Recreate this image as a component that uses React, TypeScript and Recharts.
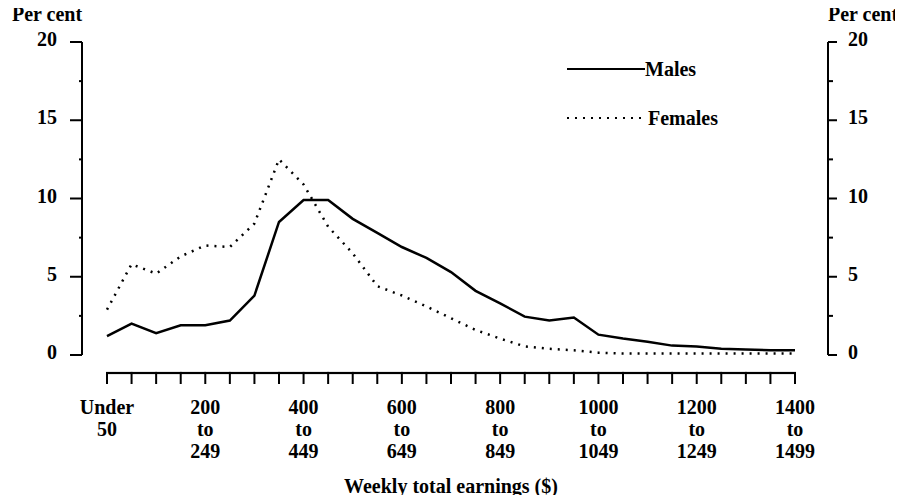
import React from 'react';
import { LineChart, Line, XAxis, YAxis, Legend } from 'recharts';

// Weekly total earnings classes (lower bound, $), 0 = "Under 50"
const earningsClasses = [0, 50, 100, 150, 200, 250, 300, 350, 400, 450, 500, 550, 600, 650, 700, 750, 800, 850, 900, 950, 1000, 1050, 1100, 1150, 1200, 1250, 1300, 1350, 1400];
const malesPct = [1.2, 2.0, 1.4, 1.9, 1.9, 2.2, 3.8, 8.5, 9.9, 9.9, 8.7, 7.8, 6.9, 6.2, 5.3, 4.1, 3.3, 2.45, 2.2, 2.4, 1.3, 1.05, 0.85, 0.6, 0.55, 0.4, 0.35, 0.3, 0.3];
const femalesPct = [2.9, 5.8, 5.2, 6.3, 7.0, 6.9, 8.4, 12.5, 10.9, 8.2, 6.5, 4.4, 3.8, 3.1, 2.35, 1.6, 1.05, 0.55, 0.4, 0.3, 0.15, 0.1, 0.1, 0.1, 0.1, 0.1, 0.1, 0.1, 0.1];
const yTicks = [0, 2.5, 5, 7.5, 10, 12.5, 15, 17.5, 20];
const xLabelledClasses = [0, 200, 400, 600, 800, 1000, 1200, 1400];
const xUpperLabels = ['50', '249', '449', '649', '849', '1049', '1249', '1499'];

const data = earningsClasses.map((c, i) => ({ band: c, Males: malesPct[i], Females: femalesPct[i] }));

const W = 903;
const H = 503;
const MARGIN = { top: 42, right: 15, bottom: 0, left: 22 };
const Y_AXIS_W = 60;
const X_PAD = { left: 25, right: 33 };
const STEP = (W - MARGIN.left - MARGIN.right - 2 * Y_AXIS_W - X_PAD.left - X_PAD.right) / (earningsClasses.length - 1);
const FONT = '"Liberation Serif", "DejaVu Serif", serif';

const txt = { fontFamily: FONT, fontSize: 20, fontWeight: 700, fill: '#000' } as const;

const XTick = (props: any) => {
  const { x, y, payload, index } = props;
  const v = payload.value as number;
  const lineY = y + 18;
  const last = index === earningsClasses.length - 1;
  const li = xLabelledClasses.indexOf(v);
  let lines: string[] = [];
  if (li >= 0) {
    lines = v === 0 ? ['Under', xUpperLabels[li]] : [String(v), 'to', xUpperLabels[li]];
  }
  return (
    <g>
      {!last && <line x1={x - 1} y1={lineY} x2={x + STEP + 1} y2={lineY} stroke="#000" strokeWidth={2.2} />}
      <line x1={x} y1={lineY} x2={x} y2={lineY + 11} stroke="#000" strokeWidth={2} />
      {lines.map((l, i) => (
        <text key={i} x={x} y={y + 59 + i * 22} textAnchor="middle" {...txt}>{l}</text>
      ))}
    </g>
  );
};

const YTickLeft = (props: any) => {
  const { x, y, payload } = props;
  const v = payload.value as number;
  const major = v % 5 === 0;
  return (
    <g>
      <line x1={x - (major ? 12 : 3)} y1={y} x2={x} y2={y} stroke="#000" strokeWidth={2} />
      {major && <text x={x - 25} y={y - 3} dy="0.35em" textAnchor="end" {...txt}>{v}</text>}
    </g>
  );
};

const YTickRight = (props: any) => {
  const { x, y, payload } = props;
  const v = payload.value as number;
  const major = v % 5 === 0;
  return (
    <g>
      <line x1={x} y1={y} x2={x + (major ? 9 : 5)} y2={y} stroke="#000" strokeWidth={2} />
      {major && <text x={x + 20} y={y - 3} dy="0.35em" textAnchor="start" {...txt}>{v}</text>}
    </g>
  );
};

const perCentLabel = (dx: number) => (props: any) => {
  const vb = props.viewBox || {};
  return <text x={vb.x + dx} y={21} textAnchor="middle" {...txt}>Per cent</text>;
};

const LegendContent = () => (
  <div style={{ fontFamily: FONT, fontSize: 20, fontWeight: 700, color: '#000' }}>
    <div style={{ display: 'flex', alignItems: 'center', height: 22 }}>
      <svg width={78} height={22}><line x1={0} y1={11} x2={78} y2={11} stroke="#000" strokeWidth={2} /></svg>
      <span style={{ marginLeft: 0 }}>Males</span>
    </div>
    <div style={{ display: 'flex', alignItems: 'center', height: 22, marginTop: 27 }}>
      <svg width={74} height={22}><line x1={0} y1={11} x2={74} y2={11} stroke="#000" strokeWidth={2.2} strokeDasharray="2 6" /></svg>
      <span style={{ marginLeft: 7 }}>Females</span>
    </div>
  </div>
);

export default function App() {
  return (
    <div style={{ margin: -8, width: W, height: H, background: '#fff' }}>
      <LineChart width={W} height={H} data={data} margin={MARGIN}>
        <XAxis
          dataKey="band"
          type="number"
          domain={[0, 1400]}
          ticks={earningsClasses}
          interval={0}
          padding={X_PAD}
          axisLine={false}
          tickLine={false}
          tickSize={0}
          tickMargin={0}
          height={148}
          tick={<XTick />}
          label={{ value: 'Weekly total earnings ($)', position: 'insideBottom', offset: 10, dx: -4, style: { ...txt } }}
        />
        <YAxis
          yAxisId="left"
          orientation="left"
          width={Y_AXIS_W}
          domain={[0, 20]}
          ticks={yTicks}
          interval={0}
          tickSize={0}
          tickMargin={0}
          tickLine={false}
          axisLine={{ stroke: '#000', strokeWidth: 2 }}
          tick={<YTickLeft />}
          label={{ content: perCentLabel(25) }}
        />
        <YAxis
          yAxisId="right"
          orientation="right"
          width={Y_AXIS_W}
          domain={[0, 20]}
          ticks={yTicks}
          interval={0}
          tickSize={0}
          tickMargin={0}
          tickLine={false}
          axisLine={{ stroke: '#000', strokeWidth: 2 }}
          tick={<YTickRight />}
          label={{ content: perCentLabel(35) }}
        />
        <Legend
          layout="vertical"
          verticalAlign="middle"
          align="center"
          wrapperStyle={{ position: 'absolute', left: 567, top: 58, width: 200 }}
          content={<LegendContent />}
        />
        <Line yAxisId="left" dataKey="Males" stroke="#000" strokeWidth={2.5} dot={false} isAnimationActive={false} />
        <Line yAxisId="right" dataKey="Females" stroke="#000" strokeWidth={2.5} strokeDasharray="2 6" dot={false} isAnimationActive={false} />
      </LineChart>
    </div>
  );
}
